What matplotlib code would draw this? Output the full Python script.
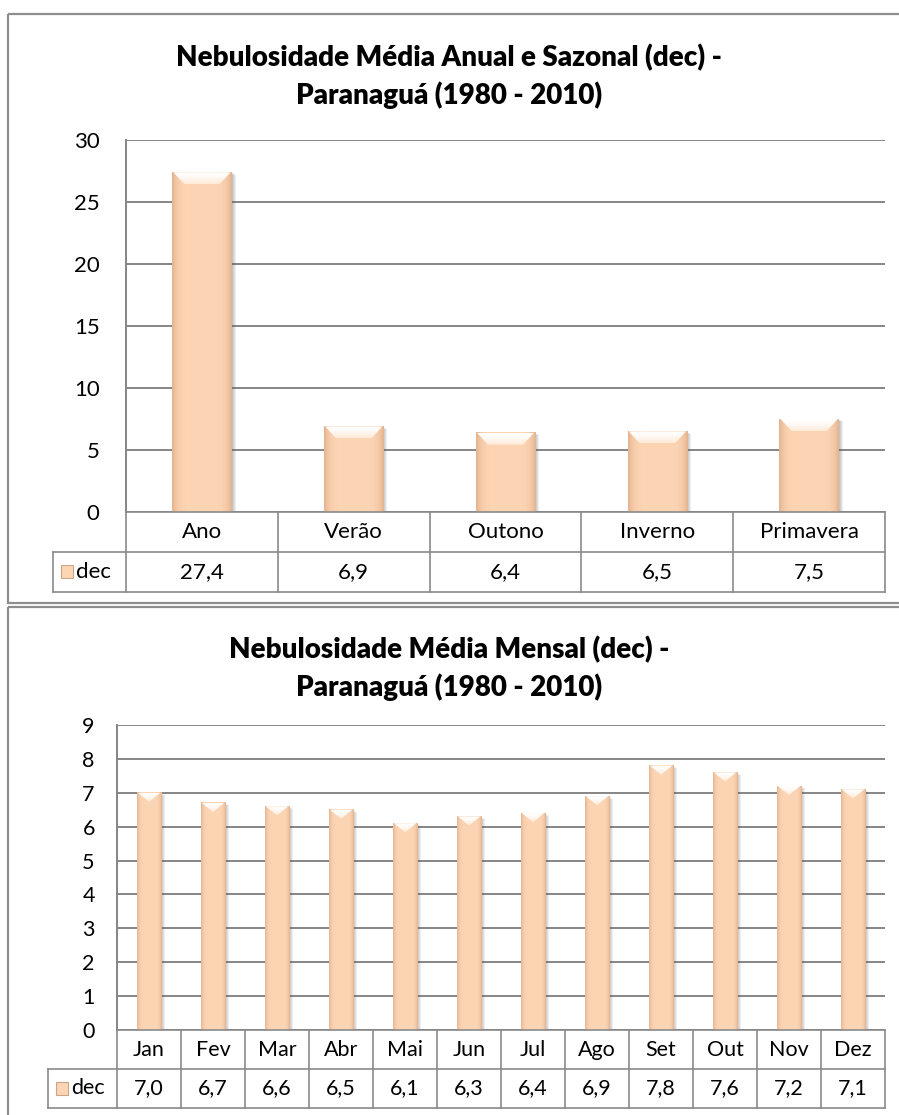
import numpy as np
import matplotlib
matplotlib.use("Agg")
import matplotlib.pyplot as plt
from matplotlib.patches import Rectangle, Polygon
from matplotlib.colors import to_rgb
import matplotlib.transforms as mtransforms

# === data ===
season_cats = ["Ano", "Verão", "Outono", "Inverno", "Primavera"]
season_vals = [27.4, 6.9, 6.4, 6.5, 7.5]

month_cats = ["Jan", "Fev", "Mar", "Abr", "Mai", "Jun",
              "Jul", "Ago", "Set", "Out", "Nov", "Dez"]
month_vals = [7.0, 6.7, 6.6, 6.5, 6.1, 6.3, 6.4, 6.9, 7.8, 7.6, 7.2, 7.1]

series_name = "dec"

# === style ===
W, H = 899, 1115
GRID = "#858585"
LINE = "#8a8a8a"
PEACH = "#fcd5b4"
PEACH_EDGE = "#e4b38e"
TXT_FONT = "Lato"
TITLE_FONT = "Lato"

fig = plt.figure(figsize=(W / 100, H / 100), dpi=100)

# full-figure overlay in pixel coords for the chart frames
bg = fig.add_axes([0, 0, 1, 1], zorder=0)
bg.set_xlim(0, W)
bg.set_ylim(H, 0)
bg.axis("off")
for (x0, y0, y1) in [(8, 14, 603), (8, 607, 1125)]:
    bg.add_patch(Rectangle((x0, y0), 960, y1 - y0, fill=False,
                           ec="#8e8e8e", lw=1.6))


def px_box(l, t, r, b):
    return [l / W, 1 - b / H, (r - l) / W, (b - t) / H]


def bar_gradient(n=64):
    t = np.linspace(0, 1, n)
    p = 1 - np.abs(2 * t - 1) ** 6
    c0 = np.array(to_rgb(PEACH_EDGE))
    c1 = np.array(to_rgb(PEACH))
    return (c0[None, :] * (1 - p)[:, None] + c1[None, :] * p[:, None])[None, :, :]


def bevel_gradient(n=32):
    # white at the top edge fading into a pale bar colour
    t = np.linspace(0, 1, n)[:, None] ** 1.5
    c0 = np.array([1.0, 1.0, 1.0])
    c1 = np.array(to_rgb("#fee9d6"))
    return c0[None, :] * (1 - t) + c1[None, :] * t


def panel(box, cats, vals, ymax, step, title, title_y, bar_w, bevel_h,
          row_h, key_cell, fs, pad):
    ax = fig.add_axes(box, zorder=1)
    n = len(cats)
    x = np.arange(n)
    ax.set_xlim(-0.5, n - 0.5)
    ax.set_ylim(0, ymax)

    bb = ax.get_window_extent()
    ppx = bb.width / n          # pixels per x unit
    ppy = bb.height / ymax      # pixels per y unit

    # soft shadow, stacked offsets
    for k in range(1, 5):
        tr = mtransforms.offset_copy(ax.transData, fig=fig, x=k, y=-k * 0.6,
                                     units="dots")
        for xi, v in zip(x, vals):
            ax.add_patch(Rectangle((xi - bar_w / 2, 0), bar_w, v, transform=tr,
                                   fc="#5a5a5a", ec="none", alpha=0.1,
                                   zorder=2))

    bars = ax.bar(x, vals, width=bar_w, color=PEACH, zorder=3, lw=0)
    grad = bar_gradient()
    bgrad = bevel_gradient()
    for b in bars:
        x0, w, h = b.get_x(), b.get_width(), b.get_height()
        ax.imshow(grad, extent=[x0, x0 + w, 0, h], aspect="auto",
                  interpolation="bicubic", zorder=3.5)
        # bevelled top
        ins = min(12 / ppx, w / 2)
        dh = bevel_h / ppy
        poly = Polygon([(x0 + 1 / ppx, h), (x0 + w - 1 / ppx, h),
                        (x0 + w - ins, h - dh), (x0 + ins, h - dh)],
                       closed=True, fc="none", ec="none")
        ax.add_patch(poly)
        im = ax.imshow(bgrad[:, None, :].repeat(2, axis=1),
                       extent=[x0, x0 + w, h - dh, h], aspect="auto",
                       interpolation="bilinear", zorder=4)
        im.set_clip_path(poly)
    ax.set_xlim(-0.5, n - 0.5)
    ax.set_ylim(0, ymax)

    ax.set_yticks(np.arange(0, ymax + step / 2, step))
    ax.yaxis.grid(True, color=GRID, lw=1.4)
    ax.set_axisbelow(True)
    ax.tick_params(axis="y", length=0, pad=pad, labelsize=fs)
    ax.tick_params(axis="x", length=0, labelbottom=False)
    for lab in ax.get_yticklabels():
        lab.set_fontfamily(TXT_FONT)
    for s in ["top", "right", "bottom"]:
        ax.spines[s].set_visible(False)
    ax.spines["left"].set_color(GRID)
    ax.spines["left"].set_linewidth(1.4)

    # data table under the axis
    tr = ax.get_xaxis_transform()
    rh = row_h / bb.height
    key_w = key_cell / ppx
    kw = dict(transform=tr, color=LINE, lw=1.2, clip_on=False, zorder=5)
    ax.plot([-0.5, n - 0.5], [0, 0], **kw)
    ax.plot([-0.5 - key_w, n - 0.5], [-rh, -rh], **kw)
    ax.plot([-0.5 - key_w, n - 0.5], [-2 * rh, -2 * rh], **kw)
    ax.plot([-0.5 - key_w, -0.5 - key_w], [-rh, -2 * rh], **kw)
    for xb in np.arange(n + 1) - 0.5:
        ax.plot([xb, xb], [0, -2 * rh], **kw)
    for xi, c, v in zip(x, cats, vals):
        ax.text(xi, -rh / 2, c, transform=tr, ha="center", va="center",
                fontsize=fs, family=TXT_FONT)
        ax.text(xi, -1.5 * rh, f"{v:.1f}".replace(".", ","), transform=tr,
                ha="center", va="center", fontsize=fs, family=TXT_FONT)
    # legend cell: key swatch + series name
    kx = -0.5 - key_w + 8 / ppx
    ax.add_patch(Rectangle((kx, -1.5 * rh - 6 / bb.height), 12 / ppx,
                           13 / bb.height, transform=tr, clip_on=False,
                           fc=PEACH, ec="#c9a58a", lw=0.8, zorder=5))
    ax.text(kx + 15 / ppx, -1.5 * rh, series_name, transform=tr,
            ha="left", va="center", fontsize=fs, family=TXT_FONT)

    fig.text(0.5, 1 - title_y / H, title, ha="center", va="center",
             fontsize=20, fontweight="heavy", family=TITLE_FONT,
             linespacing=1.45)
    return ax


panel(px_box(126, 140, 885, 512), season_cats, season_vals, 30, 5,
      "Nebulosidade Média Anual e Sazonal (dec) -\nParanaguá (1980 - 2010)",
      76, 0.39, 12, 40, 73, 16, 19)

panel(px_box(117, 725, 885, 1030), month_cats, month_vals, 9, 1,
      "Nebulosidade Média Mensal (dec) -\nParanaguá (1980 - 2010)",
      668, 0.38, 9, 39, 69, 15.5, 16)

fig.savefig("out.png", dpi=100)
